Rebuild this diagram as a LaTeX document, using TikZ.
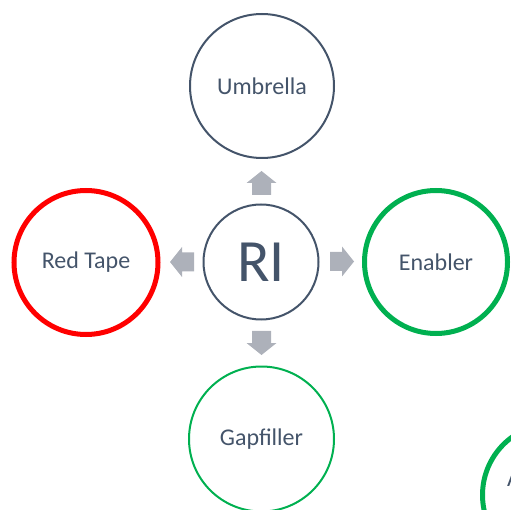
\documentclass[tikz,border=0pt]{standalone}
\usepackage{fontspec}
\setmainfont{Carlito}
\definecolor{slate}{HTML}{44546A}
\definecolor{okgreen}{HTML}{00B050}
\definecolor{arrowgray}{HTML}{ADB1BA}
\begin{document}
\begin{tikzpicture}[x=1pt,y=-1pt,
  txt/.style={text=slate, font=\fontsize{24}{28}\selectfont},
  ring/.style={circle, draw, inner sep=0pt, txt},
  thinring/.style={ring, line width=2pt},
  thickring/.style={ring, line width=5pt},
  blockarrow/.pic={\fill[arrowgray] (0,-9.5) -- (12,-9.5) -- (12,-15) -- (24,0) -- (12,15) -- (12,9.5) -- (0,9.5) -- cycle;}
]
\useasboundingbox (0,0) rectangle (511,510);
\clip (0,0) rectangle (511,510);
\node[thinring, draw=slate, minimum size=115pt, font=\fontsize{60}{64}\selectfont] (ri) at (261,262) {RI};
\node[thinring, draw=slate, minimum size=144pt] (umb) at (262,86) {Umbrella};
\node[thickring, draw=red, minimum size=144pt] (red) at (86,262.5) {Red Tape};
\node[thickring, draw=okgreen, minimum size=143pt] (ena) at (436,262) {Enabler};
\node[thinring, draw=okgreen, minimum size=145pt] (gap) at (261.5,439) {Gapfiller};
\node[thickring, draw=okgreen, minimum size=143pt] (acc) at (554,495) {};
\node[txt, anchor=base west, inner sep=0pt] (acctext) at (507,486) {A};
\pic[rotate=90] at (261.5,195) {blockarrow};
\pic at (330,261.5) {blockarrow};
\pic[rotate=180] at (194,262) {blockarrow};
\pic[rotate=-90] at (261.5,331) {blockarrow};
\end{tikzpicture}
\end{document}
